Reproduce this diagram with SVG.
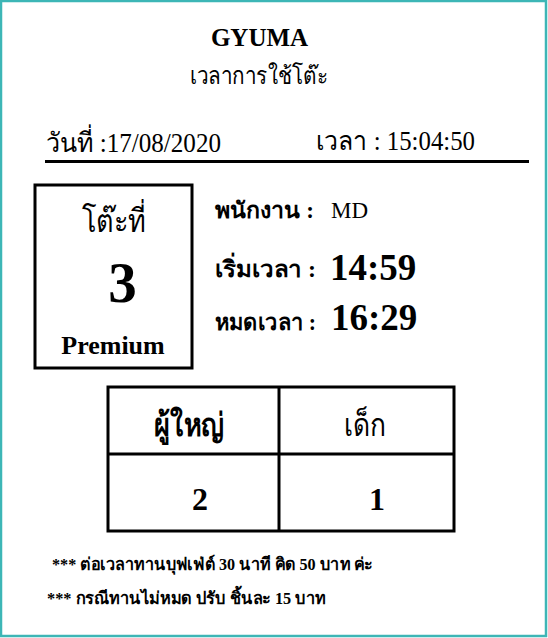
<svg xmlns="http://www.w3.org/2000/svg" width="548" height="638" viewBox="0 0 548 638">
<style>
.b{font-weight:bold}
.c{text-anchor:middle}
.box{fill:none;stroke:#000;stroke-width:3}
.ln{stroke:#000;stroke-width:3}
</style>
<rect x="0" y="0" width="548" height="638" fill="#fff"/>
<rect x="1" y="1" width="545" height="635" fill="none" stroke="#3db6b6" stroke-width="2.5"/>
<g font-family="'Liberation Serif', serif" fill="#000">
<g id="header">
<text class="b c" x="259.5" y="46" font-size="25">GYUMA</text>
<text class="c" x="259" y="84" font-size="24" textLength="138" lengthAdjust="spacingAndGlyphs">เวลาการใช้โต๊ะ</text>
<text x="46" y="152" font-size="27" textLength="175" lengthAdjust="spacingAndGlyphs">วันที่ :17/08/2020</text>
<text x="316" y="150" font-size="26.5" textLength="159" lengthAdjust="spacingAndGlyphs">เวลา : 15:04:50</text>
<line class="ln" x1="45" y1="161.5" x2="529" y2="161.5"/>
</g>
<g id="table-box">
<rect class="box" x="35" y="185" width="157" height="183"/>
<text class="c" x="114" y="232" font-size="32" textLength="64" lengthAdjust="spacingAndGlyphs">โต๊ะที่</text>
<text class="b c" x="122.5" y="302" font-size="57">3</text>
<text class="b c" x="113" y="354" font-size="26">Premium</text>
</g>
<g id="info">
<text class="b" x="215" y="218" font-size="23" textLength="99" lengthAdjust="spacingAndGlyphs">พนักงาน :</text>
<text x="331" y="218" font-size="23">MD</text>
<text class="b" x="215" y="277" font-size="23" textLength="101" lengthAdjust="spacingAndGlyphs">เริ่มเวลา  :</text>
<text class="b" x="330" y="280" font-size="37">14:59</text>
<text class="b" x="215" y="330" font-size="23" textLength="101" lengthAdjust="spacingAndGlyphs">หมดเวลา :</text>
<text class="b" x="331" y="330" font-size="37">16:29</text>
</g>
<g id="guests">
<rect class="box" x="108" y="387" width="346" height="144"/>
<line class="ln" x1="279" y1="387" x2="279" y2="531"/>
<line class="ln" x1="108" y1="454" x2="454" y2="454"/>
<text class="b c" x="189" y="436" font-size="32" textLength="70" lengthAdjust="spacingAndGlyphs">ผู้ใหญ่</text>
<text class="c" x="365" y="436" font-size="32" textLength="42" lengthAdjust="spacingAndGlyphs">เด็ก</text>
<text class="b c" x="200" y="510" font-size="32">2</text>
<text class="b c" x="377" y="510" font-size="32">1</text>
</g>
<g id="notes">
<text class="b" x="52" y="570" font-size="17" textLength="321" lengthAdjust="spacingAndGlyphs">*** ต่อเวลาทานบุฟเฟ่ต์ 30 นาที คิด 50 บาท ค่ะ</text>
<text class="b" x="47" y="604" font-size="17" textLength="279" lengthAdjust="spacingAndGlyphs">*** กรณีทานไม่หมด ปรับ ชิ้นละ 15 บาท</text>
</g>
</g>
</svg>
